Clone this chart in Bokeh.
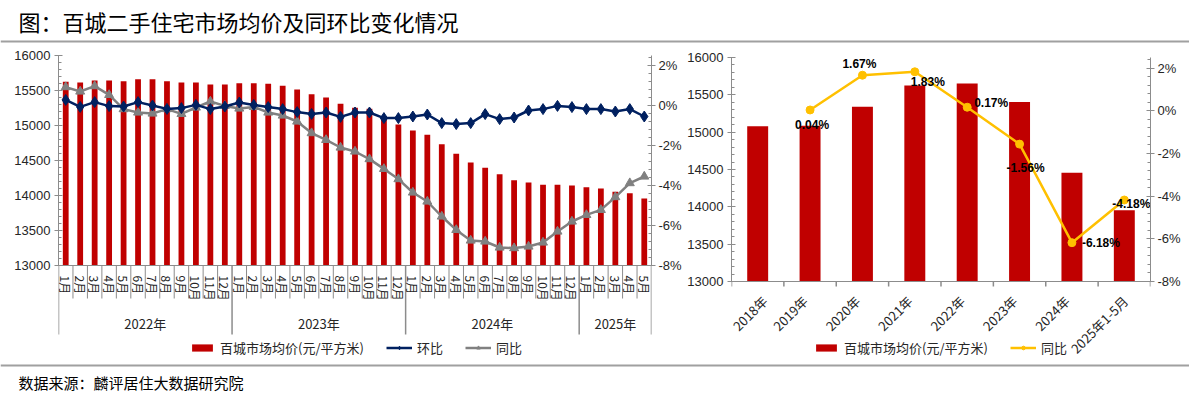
import math
from bokeh.plotting import figure
from bokeh.models import (Range1d, LinearAxis, FixedTicker, CustomJSTickFormatter,
                          Legend, LegendItem, Label)
from bokeh.layouts import column, row
from bokeh.core.properties import value
from bokeh.embed import file_html
from bokeh.resources import INLINE

# ---------------- data ----------------
left_years = ["2022年"] * 12 + ["2023年"] * 12 + ["2024年"] * 12 + ["2025年"] * 5
left_months = ["1月", "2月", "3月", "4月", "5月", "6月", "7月", "8月", "9月", "10月", "11月", "12月",
               "1月", "2月", "3月", "4月", "5月", "6月", "7月", "8月", "9月", "10月", "11月", "12月",
               "1月", "2月", "3月", "4月", "5月", "6月", "7月", "8月", "9月", "10月", "11月", "12月",
               "1月", "2月", "3月", "4月", "5月"]
left_price = [15624, 15614, 15643, 15643, 15633, 15662, 15662, 15633, 15614, 15614, 15586, 15586,
              15605, 15605, 15595, 15567, 15514, 15448, 15400, 15310, 15252, 15238, 15129, 15014,
              14929, 14867, 14733, 14595, 14471, 14395, 14305, 14219, 14186, 14152, 14152, 14143,
              14119, 14100, 14052, 14033, 13957]
left_mom = [0.28, -0.07, 0.17, -0.03, -0.05, 0.17, 0.00, -0.17, -0.13, 0.03, -0.18, -0.05,
            0.15, 0.03, -0.08, -0.18, -0.33, -0.42, -0.35, -0.57, -0.35, -0.35, -0.63, -0.63,
            -0.55, -0.45, -0.88, -0.93, -0.88, -0.43, -0.68, -0.60, -0.25, -0.18, -0.02, -0.08,
            -0.18, -0.18, -0.30, -0.18, -0.55]
left_yoy = [0.92, 0.70, 0.97, 0.53, -0.18, -0.35, -0.40, -0.18, -0.42, -0.10, 0.20, -0.02,
            -0.15, -0.07, -0.35, -0.50, -0.80, -1.38, -1.72, -2.10, -2.30, -2.68, -3.17, -3.68,
            -4.35, -4.80, -5.55, -6.22, -6.75, -6.80, -7.10, -7.13, -7.05, -6.85, -6.30, -5.80,
            -5.47, -5.22, -4.58, -3.88, -3.55]

right_cats = ["2018年", "2019年", "2020年", "2021年", "2022年", "2023年", "2024年", "2025年1-5月"]
right_price = [15078, 15086, 15342, 15624, 15651, 15404, 14455, 13953]
right_yoy = [float("nan"), 0.04, 1.67, 1.83, 0.17, -1.56, -6.18, -4.18]
right_yoy_text = ["", "0.04%", "1.67%", "1.83%", "0.17%", "-1.56%", "-6.18%", "-4.18%"]

price_ticks = [13000, 13500, 14000, 14500, 15000, 15500, 16000]
pct_ticks = [-8, -6, -4, -2, 0, 2]

# ---------------- style ----------------
CJK = "Noto Sans CJK SC"
LAT = "Liberation Sans"
RED = "#C00000"
NAVY = "#002060"
GRAY = "#808080"
GOLD = "#FFC000"
AXIS = "#8C8C8C"
TXT = "#262626"

# label placement offsets (screen px) for the yearly yoy labels
lab_dx = [0, 2, -3, 13, 24, 6, 29, 7]
lab_dy = [0, 15, -11, 10, -4, 24, 0, 4]
# horizontal nudges (px) of the rotated category labels
cat_dx = [7, -5, -5, -5, -5, -5, -5, 1]

PAGE_W = 1189
CH_H = 312
TOP = 9   # common frame top (local px) for both charts


def style_axis(ax, standoff=4):
    ax.axis_line_color = AXIS
    ax.major_tick_line_color = AXIS
    ax.minor_tick_line_color = AXIS
    ax.major_tick_in = 4
    ax.major_tick_out = 4
    ax.minor_tick_in = 3
    ax.minor_tick_out = 0
    ax.major_label_text_font = LAT
    ax.major_label_text_font_size = "13px"
    ax.major_label_text_color = TXT
    ax.major_label_standoff = standoff


pct_fmt = CustomJSTickFormatter(code="return tick.toFixed(0) + '%';")


def base_fig(w, lb, rb, xr, yr, pr):
    p = figure(width=w, height=CH_H, x_range=xr, y_range=yr, title=None,
               x_axis_location=None, y_axis_location=None,
               toolbar_location=None, output_backend="svg",
               min_border_left=lb, min_border_right=rb, min_border_top=TOP, min_border_bottom=0)
    p.extra_y_ranges = {"pct": pr}
    p.outline_line_color = None
    p.grid.visible = False
    p.background_fill_color = "white"
    p.border_fill_color = "white"
    la = LinearAxis(bounds=(13000, 16000),
                    ticker=FixedTicker(ticks=price_ticks, minor_ticks=list(range(13000, 16001, 100))))
    style_axis(la)
    p.add_layout(la, "left")
    ra = LinearAxis(y_range_name="pct", bounds=(-8, 2.5), formatter=pct_fmt,
                    ticker=FixedTicker(ticks=pct_ticks,
                                       minor_ticks=[round(-8 + 0.4 * k, 2) for k in range(27)]))
    style_axis(ra, standoff=3)
    p.add_layout(ra, "right")
    return p


def make_legend(items, x, y):
    lg = Legend(items=items, orientation="horizontal", location=(x, y),
                background_fill_alpha=0, border_line_color=None,
                glyph_width=26, glyph_height=9, label_standoff=5, spacing=22,
                padding=0, margin=0, label_height=18,
                label_text_font=CJK, label_text_font_size="13px", label_text_color=TXT)
    return lg


# ================= left chart =================
L_W = 684
L_LB = 58
L_TOP = 9            # local px of 16000 / 2.5%
L_AX = 219           # local px of 13000 / -8%
L_UNIT = 3000 / (L_AX - L_TOP)
P_UNIT = 10.5 / (L_AX - L_TOP)


def ly(px):
    return 16000 - (px - L_TOP) * L_UNIT


def lp(px):
    return 2.5 - (px - L_TOP) * P_UNIT


n = len(left_price)
idx = list(range(n))
pL = base_fig(L_W, L_LB, 32, Range1d(-0.5, n - 0.5), Range1d(ly(CH_H), ly(TOP)),
              Range1d(lp(CH_H), lp(TOP)))

bars = pL.vbar(x=idx, top=left_price, bottom=13000, width=0.4, fill_color=RED, line_color=None)
yoy_l = pL.line(idx, left_yoy, y_range_name="pct", line_color=GRAY, line_width=2.5)
yoy_m = pL.scatter(idx, left_yoy, y_range_name="pct", marker="triangle", size=9,
                   fill_color=GRAY, line_color=GRAY)
mom_l = pL.line(idx, left_mom, y_range_name="pct", line_color=NAVY, line_width=2.5)
mom_m = pL.scatter(idx, left_mom, y_range_name="pct", marker="diamond", size=11,
                   fill_color=NAVY, line_color=NAVY)

# two-level category axis (drawn through the x scale)
pL.segment(x0=[-0.5], x1=[n - 0.5], y0=[13000], y1=[13000], line_color=AXIS, line_width=1)
groups = []
for i, yname in enumerate(left_years):
    if not groups or groups[-1][0] != yname:
        groups.append([yname, i, i])
    else:
        groups[-1][2] = i
bounds_major = sorted(set([g[1] - 0.5 for g in groups] + [g[2] + 0.5 for g in groups]))
bounds_minor = [i + 0.5 for i in range(n - 1) if (i + 0.5) not in bounds_major]
pL.segment(x0=bounds_minor, x1=bounds_minor, y0=[ly(219)] * len(bounds_minor),
           y1=[ly(252)] * len(bounds_minor), line_color=AXIS, line_width=1)
pL.segment(x0=bounds_major, x1=bounds_major, y0=[ly(219)] * len(bounds_major),
           y1=[ly(288)] * len(bounds_major), line_color=AXIS, line_width=1.5)
pL.text(x=idx, y=[ly(229)] * n, text=left_months, angle=-math.pi / 2,
        text_align="left", text_baseline="middle", text_font=value(CJK),
        text_font_size="12px", text_color=TXT)
pL.text(x=[(g[1] + g[2]) / 2 for g in groups], y=[ly(277)] * len(groups),
        text=[g[0] for g in groups], text_align="center", text_baseline="middle",
        text_font=value(CJK), text_font_size="13px", text_color=TXT)

pL.add_layout(make_legend([
    LegendItem(label="百城市场均价(元/平方米)", renderers=[bars]),
    LegendItem(label="环比", renderers=[mom_l, mom_m]),
    LegendItem(label="同比", renderers=[yoy_l, yoy_m]),
], 131, 1))

# ================= right chart =================
R_W = PAGE_W - L_W
R_LB = 47
R_FRAME_W = 419
R_RB = R_W - R_LB - R_FRAME_W
R_TOP = 11           # local px of 16000 / 2.5%
R_AX = 235           # local px of 13000 / -8%
R_UNIT = 3000 / (R_AX - R_TOP)
RP_UNIT = 10.5 / (R_AX - R_TOP)


def ry(px):
    return 16000 - (px - R_TOP) * R_UNIT


def rp(px):
    return 2.5 - (px - R_TOP) * RP_UNIT


m = len(right_price)
ridx = list(range(m))
cat_px = R_FRAME_W / m
pR = base_fig(R_W, R_LB, R_RB, Range1d(-0.5, m - 0.5), Range1d(ry(CH_H), ry(TOP)),
              Range1d(rp(CH_H), rp(TOP)))

rbars = pR.vbar(x=ridx, top=right_price, bottom=13000, width=0.4, fill_color=RED, line_color=None)
rline = pR.line(ridx, right_yoy, y_range_name="pct", line_color=GOLD, line_width=2.5)
rpts = pR.scatter(ridx, right_yoy, y_range_name="pct", marker="circle", size=8,
                  fill_color=GOLD, line_color=GOLD)

lab_x, lab_y, lab_t = [], [], []
for i in ridx:
    if right_yoy_text[i]:
        lab_x.append(i + lab_dx[i] / cat_px)
        lab_y.append(right_yoy[i] - lab_dy[i] * RP_UNIT)
        lab_t.append(right_yoy_text[i])
pR.text(x=lab_x, y=lab_y, text=lab_t, y_range_name="pct", text_align="center",
        text_baseline="middle", text_font=value(LAT), text_font_style="bold",
        text_font_size="12px", text_color="#000000")

# category axis (drawn through the x scale)
pR.segment(x0=[-0.5], x1=[m - 0.5], y0=[13000], y1=[13000], line_color=AXIS, line_width=1)
rb = [i - 0.5 for i in range(m + 1)]
pR.segment(x0=rb, x1=rb, y0=[13000] * len(rb), y1=[ry(R_AX + 5)] * len(rb),
           line_color=AXIS, line_width=1.5)
for i in ridx:
    pR.add_layout(Label(x=i, y=ry(252), text=right_cats[i], angle=math.pi / 4, x_offset=cat_dx[i],
                        text_align="right", text_baseline="middle", text_font=CJK,
                        text_font_size="13px", text_color=TXT))

pR.add_layout(make_legend([
    LegendItem(label="百城市场均价(元/平方米)", renderers=[rbars]),
    LegendItem(label="同比", renderers=[rline, rpts]),
], 82, 1))


# ================= title & footer =================
def strip_fig(h):
    f = figure(width=PAGE_W, height=h, x_range=Range1d(0, PAGE_W), y_range=Range1d(h, 0),
               title=None, x_axis_location=None, y_axis_location=None,
               toolbar_location=None, output_backend="svg", min_border=0)
    f.outline_line_color = None
    f.grid.visible = False
    return f


tf = strip_fig(46)
tf.text(x=[18], y=[20], text=["图：百城二手住宅市场均价及同环比变化情况"], text_align="left",
        text_baseline="middle", text_font=value(CJK), text_font_size="22px", text_color="#000000")
tf.segment(x0=[0], x1=[PAGE_W], y0=[41], y1=[41], line_color="#A0A0A0", line_width=2)

ff = strip_fig(40)
ff.segment(x0=[0], x1=[PAGE_W], y0=[7], y1=[7], line_color="#A0A0A0", line_width=2)
ff.text(x=[18], y=[24], text=["数据来源：麟评居住大数据研究院"], text_align="left",
        text_baseline="middle", text_font=value(CJK), text_font_size="15px", text_color="#000000")

layout = column(tf, row(pL, pR), ff)
open("out.html", "w").write(file_html(layout, INLINE))
